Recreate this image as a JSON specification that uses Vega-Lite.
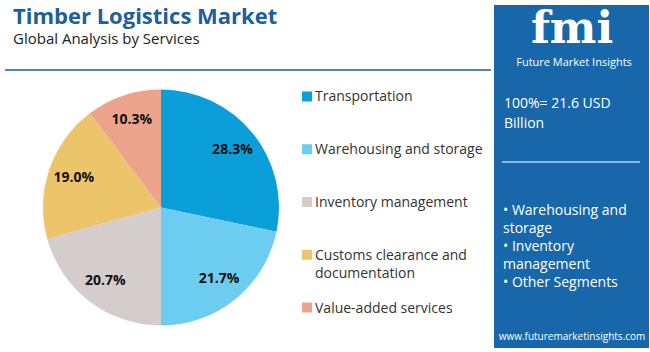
{
  "$schema": "https://vega.github.io/schema/vega-lite/v6.json",
  "padding": {"left": 4, "top": 5, "right": 3, "bottom": 4},
  "background": "white",
  "config": {"view": {"stroke": null}, "font": "Open Sans"},
  "datasets": {
    "services": [
      {"service": "Transportation", "label": ["Transportation"], "value": 28.3, "pct": "28.3%", "idx": 1},
      {"service": "Warehousing and storage", "label": ["Warehousing and storage"], "value": 21.7, "pct": "21.7%", "idx": 2},
      {"service": "Inventory management", "label": ["Inventory management"], "value": 20.7, "pct": "20.7%", "idx": 3},
      {"service": "Customs clearance and documentation", "label": ["Customs clearance and", "documentation"], "value": 19.0, "pct": "19.0%", "idx": 4},
      {"service": "Value-added services", "label": ["Value-added services"], "value": 10.3, "pct": "10.3%", "idx": 5}
    ]
  },
  "spacing": 2,
  "hconcat": [
    {
      "spacing": 18,
      "vconcat": [
        {
          "width": 486,
          "height": 66,
          "data": {"values": [{}]},
          "layer": [
            {
              "mark": {"type": "text", "text": "Timber Logistics Market", "fontSize": 22, "fontWeight": "bold", "color": "#1c5f99", "align": "left", "baseline": "alphabetic"},
              "encoding": {"x": {"value": 8}, "y": {"value": 19}}
            },
            {
              "mark": {"type": "text", "text": "Global Analysis by Services", "fontSize": 15, "color": "#222222", "align": "left", "baseline": "alphabetic"},
              "encoding": {"x": {"value": 8}, "y": {"value": 39}}
            },
            {
              "mark": {"type": "rule", "color": "#4d88c4", "strokeWidth": 2},
              "encoding": {"x": {"value": 0}, "x2": {"value": 486}, "y": {"value": 65}}
            }
          ]
        },
        {
          "spacing": 0,
          "bounds": "flush",
          "hconcat": [
            {
              "width": 312,
              "height": 237,
              "data": {"name": "services"},
              "encoding": {
                "theta": {"field": "value", "type": "quantitative", "stack": true},
                "order": {"field": "idx", "type": "ordinal"},
                "color": {
                  "field": "service",
                  "type": "nominal",
                  "scale": {
                    "domain": ["Transportation", "Warehousing and storage", "Inventory management", "Customs clearance and documentation", "Value-added services"],
                    "range": ["#0a9fd9", "#6dcdf0", "#d5cdcb", "#ecc56b", "#eca48c"]
                  },
                  "legend": null
                }
              },
              "layer": [
                {"mark": {"type": "arc", "outerRadius": 118}},
                {
                  "mark": {"type": "text", "radius": 92, "fontWeight": "bold", "fontSize": 14, "color": "#111111"},
                  "encoding": {"text": {"field": "pct", "type": "nominal"}, "color": {"value": "#111111"}}
                }
              ]
            },
            {
              "width": 172,
              "height": 226,
              "data": {"name": "services"},
              "encoding": {
                "y": {
                  "field": "service",
                  "type": "nominal",
                  "sort": {"field": "idx"},
                  "scale": {"type": "point", "padding": 0.142},
                  "axis": null
                }
              },
              "layer": [
                {
                  "mark": {"type": "point", "shape": "square", "filled": true, "size": 100, "opacity": 1},
                  "encoding": {
                    "x": {"value": -10},
                    "color": {
                      "field": "service",
                      "type": "nominal",
                      "scale": {
                        "domain": ["Transportation", "Warehousing and storage", "Inventory management", "Customs clearance and documentation", "Value-added services"],
                        "range": ["#0a9fd9", "#6dcdf0", "#d5cdcb", "#ecc56b", "#eca48c"]
                      },
                      "legend": null
                    }
                  }
                },
                {
                  "mark": {"type": "text", "align": "left", "baseline": "alphabetic", "dy": 5, "fontSize": 14, "lineHeight": 18, "color": "#333333"},
                  "encoding": {
                    "x": {"value": -2},
                    "text": {"field": "label", "type": "nominal"}
                  }
                }
              ]
            }
          ]
        }
      ]
    },
    {
      "width": 155,
      "height": 343,
      "view": {"fill": "#1767aa", "stroke": null},
      "data": {"values": [{}]},
      "layer": [
        {
          "mark": {"type": "text", "text": "fmi", "font": "DejaVu Serif", "fontWeight": "bold", "fontSize": 44, "color": "white", "align": "center", "baseline": "alphabetic"},
          "encoding": {"x": {"value": 78}, "y": {"value": 38}}
        },
        {
          "mark": {"type": "text", "text": "Future Market Insights", "fontSize": 11, "color": "white", "align": "center", "baseline": "middle"},
          "encoding": {"x": {"value": 80}, "y": {"value": 58}}
        },
        {
          "mark": {"type": "text", "text": ["100%= 21.6 USD", "Billion"], "fontSize": 14, "lineHeight": 20, "color": "white", "align": "left", "baseline": "alphabetic"},
          "encoding": {"x": {"value": 10}, "y": {"value": 103}}
        },
        {
          "mark": {"type": "rule", "color": "#8db7e0", "strokeWidth": 2},
          "encoding": {"x": {"value": 8}, "x2": {"value": 146}, "y": {"value": 157}}
        },
        {
          "mark": {"type": "text", "text": ["• Warehousing and", "storage", "• Inventory", "management", "• Other Segments"], "fontSize": 14, "lineHeight": 18, "color": "white", "align": "left", "baseline": "alphabetic"},
          "encoding": {"x": {"value": 9}, "y": {"value": 210}}
        },
        {
          "mark": {"type": "text", "text": "www.futuremarketinsights.com", "fontSize": 10, "color": "white", "align": "center", "baseline": "middle"},
          "encoding": {"x": {"value": 78}, "y": {"value": 332}}
        }
      ]
    }
  ]
}
